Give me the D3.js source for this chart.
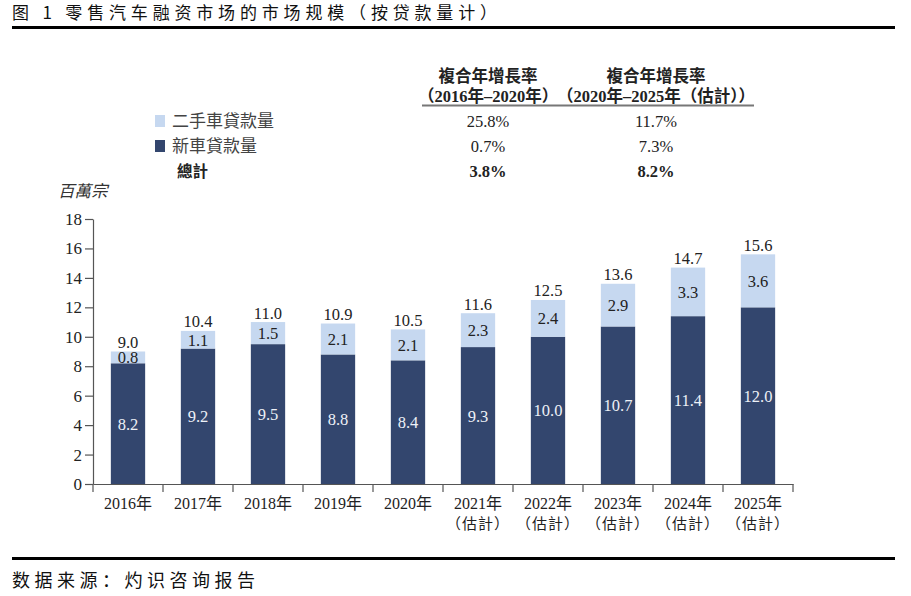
<!DOCTYPE html>
<html><head><meta charset="utf-8">
<script src="https://cdn.jsdelivr.net/npm/d3@7"></script>
<style>
html,body{margin:0;padding:0;background:#fff;}
svg{display:block;}
</style></head>
<body>
<svg id="c" width="911" height="596"></svg>
<script>
const years = ["2016年","2017年","2018年","2019年","2020年","2021年","2022年","2023年","2024年","2025年"];
const estimated = [false,false,false,false,false,true,true,true,true,true];
const newCar = [8.2,9.2,9.5,8.8,8.4,9.3,10.0,10.7,11.4,12.0];
const usedCar = [0.8,1.1,1.5,2.1,2.1,2.3,2.4,2.9,3.3,3.6];
const totals = [9.0,10.4,11.0,10.9,10.5,11.6,12.5,13.6,14.7,15.6];
const yTicks = [0,2,4,6,8,10,12,14,16,18];
const legendNames = ["二手車貸款量","新車貸款量","總計"];
const cagr1 = ["25.8%","0.7%","3.8%"];
const cagr2 = ["11.7%","7.3%","8.2%"];
const colors = {used:"#c6d8f0", neu:"#33466e"};

const svg = d3.select("#c");
const serif = "'Liberation Serif','Times New Roman',serif";
const cjk = "'Noto Sans CJK TC','Noto Sans CJK SC',sans-serif";
const mixed = "'Liberation Serif','Noto Sans CJK TC',serif";

// title
svg.append("text").attr("x",12).attr("y",19).attr("font-family","'Noto Sans CJK SC',sans-serif")
  .attr("font-size",17).attr("fill","#111").attr("textLength",485).attr("lengthAdjust","spacing")
  .text("图 1 零售汽车融资市场的市场规模（按贷款量计）");
svg.append("rect").attr("x",12).attr("y",26).attr("width",883).attr("height",3).attr("fill","#000");
svg.append("rect").attr("x",12).attr("y",557).attr("width",883).attr("height",3).attr("fill","#000");
svg.append("text").attr("x",12).attr("y",587).attr("font-family","'Noto Sans CJK SC',sans-serif")
  .attr("font-size",18).attr("fill","#111").attr("textLength",243).attr("lengthAdjust","spacing")
  .text("数据来源：灼识咨询报告");

// scales
const x = d3.scaleBand().domain(years).range([93,793]).paddingInner(0.51).paddingOuter(0.255);
const y = d3.scaleLinear().domain([0,18]).range([484,219]);

// y axis
const ya = svg.append("g").attr("transform","translate(93,0)")
  .call(d3.axisLeft(y).tickValues(yTicks).tickSize(8).tickSizeOuter(0).tickPadding(3));
ya.select(".domain").attr("stroke","#555").attr("stroke-width",1.2);
ya.selectAll(".tick line").attr("stroke","#555").attr("stroke-width",1.2);
ya.selectAll(".tick text").attr("font-family",serif).attr("font-size",17).attr("fill","#222");

svg.append("text").attr("x",58).attr("y",197).attr("font-family",cjk).attr("font-style","italic")
  .attr("font-size",16.5).attr("fill","#333").text("百萬宗");

// x axis
const xa = svg.append("g").attr("transform","translate(0,484)")
  .call(d3.axisBottom(x).tickSize(0).tickFormat(""));
xa.select(".domain").attr("stroke","#555").attr("stroke-width",1.2);
const edge = i => i===0 ? x.range()[0] : (i===years.length ? x.range()[1] : x(years[i]) - (x.step()-x.bandwidth())/2);
svg.append("g").selectAll("line").data(d3.range(years.length+1)).join("line")
  .attr("x1", edge).attr("x2", edge)
  .attr("y1",484).attr("y2",492).attr("stroke","#555").attr("stroke-width",1.2);

const xl = svg.append("g").selectAll("g").data(years).join("g");
xl.append("text").attr("x", d => x(d)+x.bandwidth()/2).attr("y",509).attr("text-anchor","middle")
  .attr("font-family",mixed).attr("font-size",16).attr("fill","#222").text(d=>d);
xl.filter((d,i)=>estimated[i]).append("text").attr("x", d => x(d)+x.bandwidth()/2).attr("y",529)
  .attr("text-anchor","middle").attr("font-family",cjk).attr("font-size",15).attr("fill","#222")
  .attr("letter-spacing",1).text("（估計）");

// bars
const g = svg.append("g");
years.forEach((yr,i) => {
  const bx = x(yr), bw = x.bandwidth();
  g.append("rect").attr("x",bx).attr("width",bw).attr("y",y(newCar[i])).attr("height",y(0)-y(newCar[i])).attr("fill",colors.neu);
  g.append("rect").attr("x",bx).attr("width",bw).attr("y",y(totals[i])).attr("height",y(newCar[i])-y(totals[i])).attr("fill",colors.used);
  g.append("text").attr("x",bx+bw/2).attr("y",y(newCar[i]/2)+6).attr("text-anchor","middle")
    .attr("font-family",serif).attr("font-size",16.5).attr("fill","#eef1f7").text(newCar[i].toFixed(1));
  g.append("text").attr("x",bx+bw/2).attr("y",y((newCar[i]+totals[i])/2)+6).attr("text-anchor","middle")
    .attr("font-family",serif).attr("font-size",16.5).attr("fill","#222").text(usedCar[i].toFixed(1));
  g.append("text").attr("x",bx+bw/2).attr("y",y(totals[i])-3.5).attr("text-anchor","middle")
    .attr("font-family",serif).attr("font-size",16.5).attr("fill","#222").text(totals[i].toFixed(1));
});

// legend table
const c1 = 488, c2 = 656;
const hdr = svg.append("g").attr("font-weight","bold").attr("fill","#222");
hdr.append("text").attr("x",c1).attr("y",82).attr("text-anchor","middle").attr("font-family",cjk).attr("font-size",16.5).text("複合年增長率");
hdr.append("text").attr("x",c2).attr("y",82).attr("text-anchor","middle").attr("font-family",cjk).attr("font-size",16.5).text("複合年增長率");
hdr.append("text").attr("x",c1).attr("y",102).attr("text-anchor","middle").attr("font-family",mixed).attr("font-size",16.5).text("（2016年–2020年）");
hdr.append("text").attr("x",c2).attr("y",102).attr("text-anchor","middle").attr("font-family",mixed).attr("font-size",16.5).text("（2020年–2025年（估計））");
svg.append("line").attr("x1",422).attr("x2",754).attr("y1",105.5).attr("y2",105.5).attr("stroke","#777").attr("stroke-width",1.8);

const rowsY = [127,152,177];
svg.append("rect").attr("x",155).attr("y",115).attr("width",10).attr("height",12).attr("fill",colors.used);
svg.append("rect").attr("x",155).attr("y",140).attr("width",10).attr("height",12).attr("fill",colors.neu);
legendNames.forEach((n,i)=>{
  svg.append("text").attr("x", i<2 ? 172 : 177).attr("y",rowsY[i]).attr("font-family",cjk)
    .attr("font-size", i<2 ? 17 : 15.5).attr("font-weight", i===2?"bold":"normal").attr("fill", i===2?"#222":"#444").text(n);
  svg.append("text").attr("x",c1).attr("y",rowsY[i]).attr("text-anchor","middle").attr("font-family",serif)
    .attr("font-size",16.5).attr("font-weight", i===2?"bold":"normal").attr("fill","#222").text(cagr1[i]);
  svg.append("text").attr("x",c2).attr("y",rowsY[i]).attr("text-anchor","middle").attr("font-family",serif)
    .attr("font-size",16.5).attr("font-weight", i===2?"bold":"normal").attr("fill","#222").text(cagr2[i]);
});
</script>
</body></html>
